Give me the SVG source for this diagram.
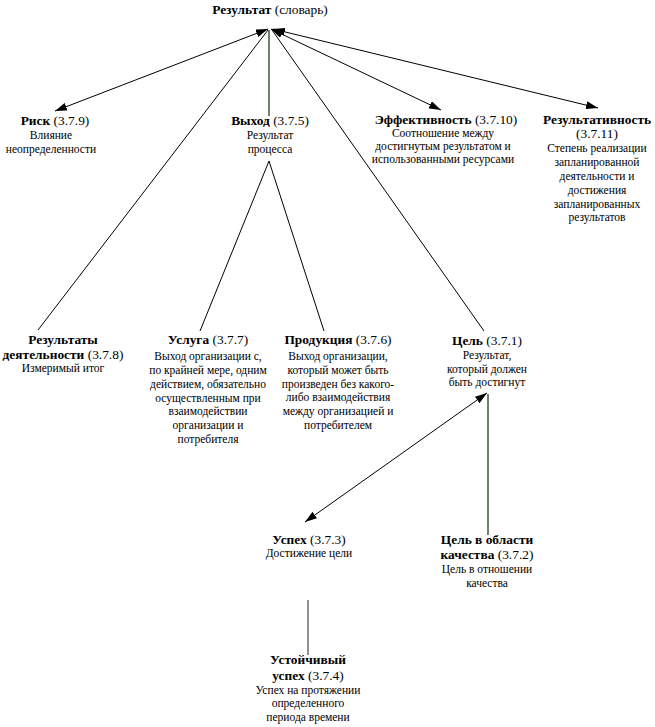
<svg xmlns="http://www.w3.org/2000/svg" width="655" height="727" viewBox="0 0 655 727" font-family="'Liberation Serif', 'Times New Roman', serif">
<style>
text{font-family:'Liberation Serif','Times New Roman',serif;fill:#000;text-anchor:middle}
.t{font-size:13.4px}
.b{font-weight:bold}
.d{font-size:11.5px}
.c{stroke:#000;stroke-width:1;fill:none}
.g{stroke:#1f3f1f;stroke-width:1.3;fill:none}
.gr{stroke:#555;stroke-width:1.3;fill:none}
</style>
<defs>
<marker id="ah" viewBox="0 0 12 8" refX="12" refY="4" markerWidth="12" markerHeight="8" markerUnits="userSpaceOnUse" orient="auto-start-reverse">
<path d="M0,0 L12,4 L0,8 Z" fill="#000"/>
</marker>
</defs>
<rect width="655" height="727" fill="#fff"/>
<g id="connectors">
<line class="c" x1="268" y1="29" x2="55" y2="111" marker-start="url(#ah)" marker-end="url(#ah)"/>
<line class="c" x1="38" y1="330" x2="268" y2="30"/>
<line class="g" x1="269" y1="30" x2="269" y2="116"/>
<line class="c" x1="272" y1="30" x2="484" y2="331"/>
<line class="c" x1="271" y1="29" x2="441" y2="110" marker-start="url(#ah)" marker-end="url(#ah)"/>
<line class="c" x1="273" y1="29" x2="598" y2="108" marker-start="url(#ah)" marker-end="url(#ah)"/>
<line class="c" x1="200" y1="331" x2="269" y2="161"/>
<line class="c" x1="324" y1="331" x2="269" y2="161"/>
<line class="c" x1="487" y1="393" x2="305" y2="522" marker-start="url(#ah)" marker-end="url(#ah)"/>
<line class="g" x1="488" y1="394" x2="488" y2="535"/>
<line class="gr" x1="308" y1="600" x2="308" y2="655"/>
</g>
<g id="root">
<text class="t" x="270" y="14"><tspan class="b">Результат</tspan> (словарь)</text>
</g>
<g id="risk">
<text class="t" x="55" y="125"><tspan class="b">Риск</tspan> (3.7.9)</text>
<text class="d" x="51" y="139">Влияние</text>
<text class="d" x="51" y="153">неопределенности</text>
</g>
<g id="output">
<text class="t" x="270" y="125"><tspan class="b">Выход</tspan> (3.7.5)</text>
<text class="d" x="270" y="139">Результат</text>
<text class="d" x="270" y="153">процесса</text>
</g>
<g id="efficiency">
<text class="t" x="446" y="124"><tspan class="b">Эффективность</tspan> (3.7.10)</text>
<text class="d" x="443" y="137">Соотношение между</text>
<text class="d" x="443" y="150">достигнутым результатом и</text>
<text class="d" x="443" y="163">использованными ресурсами</text>
</g>
<g id="effectiveness">
<text class="t b" x="597" y="124">Результативность</text>
<text class="t" x="597" y="138">(3.7.11)</text>
<text class="d" x="597" y="152">Степень реализации</text>
<text class="d" x="597" y="166">запланированной</text>
<text class="d" x="597" y="180">деятельности и</text>
<text class="d" x="597" y="194">достижения</text>
<text class="d" x="597" y="208">запланированных</text>
<text class="d" x="597" y="221">результатов</text>
</g>
<g id="performance">
<text class="t b" x="63" y="344">Результаты</text>
<text class="t" x="63" y="359"><tspan class="b">деятельности</tspan> (3.7.8)</text>
<text class="d" x="63" y="372">Измеримый итог</text>
</g>
<g id="service">
<text class="t" x="208" y="344"><tspan class="b">Услуга</tspan> (3.7.7)</text>
<text class="d" x="208" y="360">Выход организации с,</text>
<text class="d" x="208" y="374">по крайней мере, одним</text>
<text class="d" x="208" y="388">действием, обязательно</text>
<text class="d" x="208" y="402">осуществленным при</text>
<text class="d" x="208" y="415">взаимодействии</text>
<text class="d" x="208" y="429">организации и</text>
<text class="d" x="208" y="443">потребителя</text>
</g>
<g id="product">
<text class="t" x="338" y="344"><tspan class="b">Продукция</tspan> (3.7.6)</text>
<text class="d" x="338" y="360">Выход организации,</text>
<text class="d" x="338" y="374">который может быть</text>
<text class="d" x="338" y="388">произведен без какого-</text>
<text class="d" x="338" y="401">либо взаимодействия</text>
<text class="d" x="338" y="415">между организацией и</text>
<text class="d" x="338" y="429">потребителем</text>
</g>
<g id="objective">
<text class="t" x="487" y="345"><tspan class="b">Цель</tspan> (3.7.1)</text>
<text class="d" x="487" y="359">Результат,</text>
<text class="d" x="487" y="373">который должен</text>
<text class="d" x="487" y="386">быть достигнут</text>
</g>
<g id="success">
<text class="t" x="309" y="544"><tspan class="b">Успех</tspan> (3.7.3)</text>
<text class="d" x="309" y="557">Достижение цели</text>
</g>
<g id="quality-objective">
<text class="t b" x="487" y="544">Цель в области</text>
<text class="t" x="487" y="559"><tspan class="b">качества</tspan> (3.7.2)</text>
<text class="d" x="487" y="573">Цель в отношении</text>
<text class="d" x="487" y="587">качества</text>
</g>
<g id="sustained-success">
<text class="t b" x="308" y="664">Устойчивый</text>
<text class="t" x="308" y="680"><tspan class="b">успех</tspan> (3.7.4)</text>
<text class="d" x="308" y="694">Успех на протяжении</text>
<text class="d" x="308" y="707">определенного</text>
<text class="d" x="308" y="721">периода времени</text>
</g>
</svg>
